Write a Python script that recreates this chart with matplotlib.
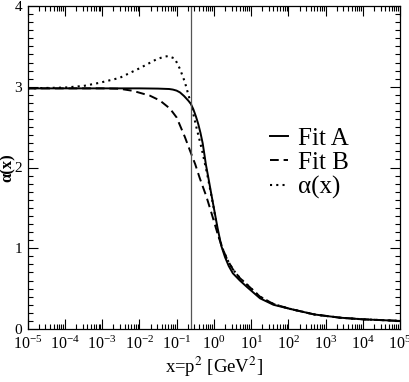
import numpy as np
import matplotlib
matplotlib.use("Agg")
import matplotlib.pyplot as plt
from matplotlib.ticker import LogLocator, MultipleLocator, NullFormatter

plt.rcParams['font.family'] = ['Liberation Serif', 'DejaVu Serif']
plt.rcParams['mathtext.fontset'] = 'stix'

# log10(x) and alpha values
lx_a = [-5, -4, -3, -2, -1.5, -1.2, -1.1, -1.0, -0.91, -0.8, -0.69, -0.62, -0.55, -0.48,
        -0.42, -0.36, -0.3, -0.25, -0.215, -0.15, -0.08, 0.0, 0.1, 0.2, 0.3, 0.4, 0.51,
        0.7, 0.89, 1.24, 1.6, 2.04, 2.7, 3.39, 4.0, 5.0]
fit_a = [2.98, 2.98, 2.98, 2.98, 2.977, 2.972, 2.965, 2.952, 2.93, 2.885, 2.83, 2.79, 2.72,
         2.63, 2.54, 2.43, 2.3, 2.15, 2.04, 1.88, 1.7, 1.5, 1.25, 1.03, 0.89, 0.78, 0.69,
         0.6, 0.52, 0.38, 0.3, 0.25, 0.18, 0.14, 0.12, 0.10]

lx_b = [-5, -4, -3, -2.53, -2.18, -1.72, -1.45, -1.18, -1.0, -0.78, -0.65, -0.5, -0.38,
        -0.2, -0.06, 0.12, 0.24, 0.36, 0.51, 0.7, 0.89, 1.24, 1.6, 2.04, 2.7, 3.39, 4.0, 5.0]
fit_b = [2.98, 2.98, 2.98, 2.975, 2.95, 2.89, 2.83, 2.73, 2.62, 2.38, 2.22, 2.04, 1.87,
         1.64, 1.43, 1.15, 0.99, 0.86, 0.74, 0.63, 0.55, 0.4, 0.31, 0.25, 0.18, 0.14, 0.12, 0.10]

lx_c = [-5, -4, -3.5, -3.06, -2.53, -1.99, -1.54, -1.35, -1.23, -1.05, -0.91, -0.78, -0.69,
        -0.62, -0.47, -0.32, -0.18, -0.02, 0.12, 0.24, 0.36, 0.51, 0.7, 0.89, 1.24, 1.6, 2.04,
        2.7, 3.39, 4.0, 5.0]
alpha_x = [2.98, 2.99, 3.01, 3.05, 3.11, 3.23, 3.34, 3.37, 3.38, 3.35, 3.22, 3.06, 2.91,
           2.8, 2.5, 2.22, 1.92, 1.54, 1.16, 0.99, 0.86, 0.74, 0.63, 0.55, 0.4, 0.31, 0.25,
           0.18, 0.14, 0.12, 0.10]

x_line = 0.24

fig = plt.figure(figsize=(4.09, 3.82), dpi=100)
ax = fig.add_axes([27.7/409, 1 - 329/382, (400 - 27.7)/409, (329 - 6)/382])

ax.plot(10**np.array(lx_a), fit_a, '-', color='black', lw=1.4, label='Fit A')
ax.plot(10**np.array(lx_b), fit_b, '--', color='black', lw=1.4, dashes=(4.5, 2.5), label='Fit B')
ax.plot(10**np.array(lx_c), alpha_x, ':', color='black', lw=1.5, dashes=(1, 2), label='α(x)')
ax.axvline(x_line, color='#555555', lw=0.9)

ax.set_xscale('log')
ax.set_xlim(1e-5, 1e5)
ax.set_ylim(0, 4)
ax.xaxis.set_major_locator(LogLocator(base=10, numticks=20))
ax.xaxis.set_minor_locator(LogLocator(base=10, subs=np.arange(2, 10), numticks=20))
ax.xaxis.set_minor_formatter(NullFormatter())
ax.yaxis.set_major_locator(MultipleLocator(1))
ax.yaxis.set_minor_locator(MultipleLocator(0.1))
ax.tick_params(which='both', direction='in', top=True, right=True, width=0.8)
ax.tick_params(which='major', length=7)
ax.tick_params(which='minor', length=3.5)
ax.tick_params(axis='x', which='major', labelsize=11.5, pad=5)
ax.tick_params(axis='y', which='major', labelsize=11, pad=4)
for s in ax.spines.values():
    s.set_linewidth(0.9)

ax.set_xlabel('x=p$^2$ [GeV$^2$]', fontsize=13.5, labelpad=1)
ax.set_ylabel('α(x)', fontsize=12, fontweight='bold', va='center')
ax.yaxis.set_label_coords(-0.053, 0.5)

ax.legend(loc='upper left', bbox_to_anchor=(0.652, 0.625), frameon=False, fontsize=18,
          handlelength=0.7, handletextpad=0.4, labelspacing=0.08, borderpad=0, borderaxespad=0)

fig.savefig('out.png', dpi=100)
